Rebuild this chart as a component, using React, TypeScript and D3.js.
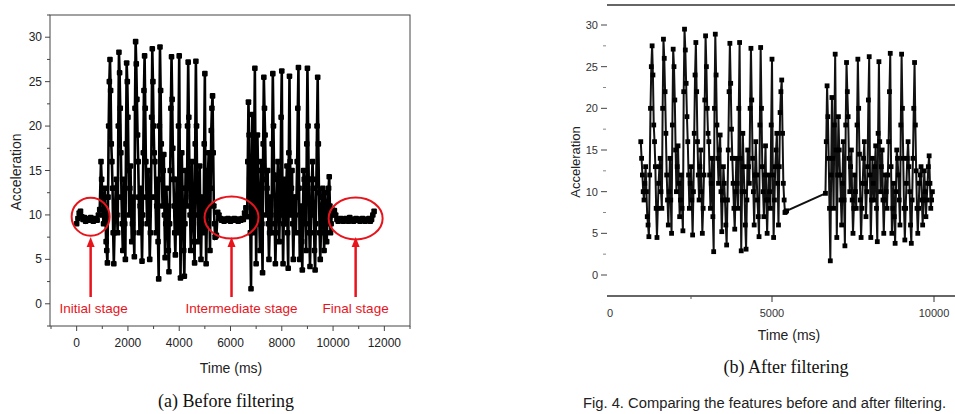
import React from "react";
import * as d3 from "d3";

// sampling steps (ms)
const REST_STEP = 50;
const MOVE_STEP = 25;

// stationary phases (before filtering only)
const initialStart = 0;
const initialValues = [9.0, 9.6, 10.2, 10.4, 9.8, 9.5, 9.7, 9.3, 9.6, 9.5, 9.4, 9.7, 9.5, 9.3, 9.6, 9.5, 9.4, 10.0, 10.6];

const middleStart = 5500;
const middleValues = [10.3, 10.0, 9.6, 9.4, 9.5, 9.3, 9.5, 9.4, 9.6, 9.5, 9.3, 9.4, 9.5, 9.6, 9.4, 9.5, 9.3, 9.5, 9.4, 9.6, 9.5, 10.2, 10.8];

const finalStart = 10000;
const finalValues = [10.2, 10.5, 10.0, 9.5, 9.3, 9.4, 9.6, 9.5, 9.3, 9.4, 9.6, 9.5, 9.3, 9.7, 9.5, 9.4, 9.3, 9.5, 9.6, 9.4, 9.5, 9.3, 9.5, 9.6, 9.4, 9.3, 9.5, 9.4, 9.6, 9.3, 9.5, 10.0, 10.4];

// movement phases (kept after filtering)
const move1Start = 950;
const move1Values = [
  16.0, 14, 12, 10, 9, 11, 13, 10, 7, 6, 4.6, 12, 20, 25, 27.5, 24, 18, 16, 13, 8,
  4.5, 8, 11, 13, 14, 10, 8, 20, 28.3, 26, 22, 17, 12, 9, 6, 10, 14, 9, 5, 18,
  27.1, 25, 21, 15, 10, 13, 15.5, 11, 7, 9, 12, 8, 5.3, 22, 29.5, 27, 23, 19, 16, 12,
  8, 11, 13, 9, 4.8, 10, 17, 24, 27.9, 22, 16, 12, 9, 13, 15, 10, 5, 8, 12, 21,
  28.7, 25, 20, 17, 16, 12, 8, 11, 14, 7, 2.8, 20, 28.9, 24, 18, 14, 11, 15, 16.8, 10,
  5.2, 9, 13, 11, 9, 6, 3.6, 9, 15, 22, 27.8, 23, 17.5, 14, 11, 8, 5.5, 10, 14, 11,
  8, 20, 27.9, 14, 2.9, 10, 17, 13, 10, 6, 3.1, 9, 15, 13, 11, 20, 27.2, 21, 14, 10,
  6, 12, 16, 12, 9, 7, 4.6, 18, 27.3, 20, 13, 10, 7, 12, 15.5, 9, 5, 9, 12, 10,
  8, 18, 25.9, 12, 4.5, 9, 13, 15, 17, 11, 6, 13, 19.5, 22, 23.4, 17, 11, 9, 7.5, 7.6,
  7.7,
];

const move2Start = 6650;
const move2Values = [
  9.8, 16, 22.7, 19, 14, 8, 1.7, 12, 21.3, 14, 8, 18, 26.5, 15, 4.5, 12, 19, 15, 12, 9,
  6, 11, 16, 9, 3.5, 18, 25.5, 22, 19, 14, 10, 13, 15, 9, 5, 8, 12, 10, 8, 18,
  25.9, 20, 14.5, 9, 4.5, 8, 11, 14, 16, 11, 7, 10, 13, 21, 26.2, 12, 4.5, 9, 14, 11,
  9, 13, 15.5, 8, 4.0, 17, 25.6, 16, 10, 13, 15, 9, 5, 9, 12, 10, 8, 12, 16, 22,
  26.6, 13, 5, 8, 11, 7, 3.8, 10, 15, 14, 12, 9, 6, 18, 26.5, 20, 14, 8, 4.2, 8,
  11, 14, 16, 13, 10, 6, 3.8, 9, 14, 20, 25.5, 18, 12.5, 8, 5, 8, 11, 12, 13, 9,
  6, 9, 12.5, 10, 7, 9, 11, 13, 14.3, 11, 8, 9, 10,
];

const yTicks = [0, 5, 10, 15, 20, 25, 30];
const xTicksBefore = [0, 2000, 4000, 6000, 8000, 10000, 12000];
const xTicksAfter = [0, 5000, 10000];

const stageLabels = ["Initial stage", "Intermediate stage", "Final stage"];
const stageTimes = [546, 6040, 10880];
const stageValues = [9.8, 9.7, 9.6];
const stageRadii = [[19, 19], [27, 21], [27, 21]];

type Pt = { t: number; v: number };
const toPts = (start: number, step: number, vals: number[]): Pt[] => vals.map((v, i) => ({ t: start + i * step, v }));

const beforeData: Pt[] = [
  ...toPts(initialStart, REST_STEP, initialValues),
  ...toPts(move1Start, MOVE_STEP, move1Values),
  ...toPts(middleStart, REST_STEP, middleValues),
  ...toPts(move2Start, MOVE_STEP, move2Values),
  ...toPts(finalStart, REST_STEP, finalValues),
];
const afterData: Pt[] = [...toPts(move1Start, MOVE_STEP, move1Values), ...toPts(move2Start, MOVE_STEP, move2Values)];

const sans = "'Liberation Sans', Arial, sans-serif";
const serif = "'Liberation Serif', 'Times New Roman', serif";

function BeforeChart() {
  const x = d3.scaleLinear().domain([-1000, 13000]).range([51, 410]);
  const y = d3.scaleLinear().domain([-2.5, 32.5]).range([326, 15]);
  const line = d3.line<Pt>().x((d) => x(d.t)).y((d) => y(d.v));
  const minorY = d3.range(-2.5, 32.6, 2.5).filter((v) => !yTicks.includes(v));
  const minorX = d3.range(-1000, 13001, 1000).filter((v) => !xTicksBefore.includes(v));
  return (
    <g>
      <path d={line(beforeData) || ""} fill="none" stroke="#000" strokeWidth={2.6} />
      {beforeData.map((d, i) => (
        <rect key={i} x={x(d.t) - 2.8} y={y(d.v) - 2.8} width={5.6} height={5.6} rx={1} fill="#000" />
      ))}
      <rect x={50} y={15} width={360} height={311} fill="none" stroke="#444" strokeWidth={1} />
      {yTicks.map((v) => (
        <g key={v}>
          <line x1={45} x2={50} y1={y(v)} y2={y(v)} stroke="#444" />
          <text x={42} y={y(v) + 4} textAnchor="end" fontSize={12} fontFamily={sans} fill="#222">{v}</text>
        </g>
      ))}
      {minorY.map((v) => (
        <line key={v} x1={47} x2={50} y1={y(v)} y2={y(v)} stroke="#444" />
      ))}
      {xTicksBefore.map((v) => (
        <g key={v}>
          <line x1={x(v)} x2={x(v)} y1={326} y2={331} stroke="#444" />
          <text x={x(v)} y={347} textAnchor="middle" fontSize={12} fontFamily={sans} fill="#222">{v}</text>
        </g>
      ))}
      {minorX.map((v) => (
        <line key={v} x1={x(v)} x2={x(v)} y1={326} y2={329} stroke="#444" />
      ))}
      <text x={231} y={373} textAnchor="middle" fontSize={14} fontFamily={sans} fill="#222">Time (ms)</text>
      <text transform="translate(21,172) rotate(-90)" textAnchor="middle" fontSize={14} fontFamily={sans} fill="#222">Acceleration</text>

      {stageLabels.map((s, i) => (
        <g key={s} stroke="#e8141c" fill="none">
          <ellipse cx={x(stageTimes[i])} cy={y(stageValues[i])} rx={stageRadii[i][0]} ry={stageRadii[i][1]} strokeWidth={2} />
          <line x1={x(stageTimes[i])} x2={x(stageTimes[i])} y1={297} y2={245} strokeWidth={2.5} />
          <path d={`M${x(stageTimes[i]) - 4},${247} L${x(stageTimes[i])},${237} L${x(stageTimes[i]) + 4},${247} Z`} fill="#e8141c" stroke="none" />
          <text x={x(stageTimes[i]) + (i === 0 ? 3 : i === 1 ? 10 : 0)} y={313} textAnchor="middle" fontSize={13.5} fontFamily={sans} fill="#e8141c" stroke="none">{s}</text>
        </g>
      ))}
      <text x={226} y={407} textAnchor="middle" fontSize={18} fontFamily={serif} fill="#111">(a) Before filtering</text>
    </g>
  );
}

function AfterChart() {
  const x = d3.scaleLinear().domain([0, 10000]).range([610, 934]);
  const y = d3.scaleLinear().domain([0, 30]).range([275, 25]);
  const line = d3.line<Pt>().x((d) => x(d.t)).y((d) => y(d.v));
  const minorY = d3.range(2.5, 30, 5);
  return (
    <g>
      <line x1={607} x2={955} y1={5} y2={5} stroke="#333" strokeWidth={1.5} />
      <path d={line(afterData) || ""} fill="none" stroke="#111" strokeWidth={2} />
      {afterData.map((d, i) => (
        <rect key={i} x={x(d.t) - 2.4} y={y(d.v) - 2.4} width={4.8} height={4.8} fill="#000" />
      ))}
      <line x1={607} x2={955} y1={296} y2={296} stroke="#333" strokeWidth={1.5} />
      {yTicks.map((v) => (
        <g key={v}>
          <line x1={601} x2={607} y1={y(v)} y2={y(v)} stroke="#444" />
          <text x={598} y={y(v) + 4} textAnchor="end" fontSize={11} fontFamily={sans} fill="#333">{v}</text>
        </g>
      ))}
      {minorY.map((v) => (
        <line key={v} x1={603} x2={606} y1={y(v)} y2={y(v)} stroke="#888" />
      ))}
      {xTicksAfter.map((v) => (
        <g key={v}>
          {v > 0 && <line x1={x(v)} x2={x(v)} y1={296} y2={302} stroke="#333" />}
          <text x={x(v)} y={317} textAnchor="middle" fontSize={11} fontFamily={sans} fill="#333">{v}</text>
        </g>
      ))}
      <line x1={x(2500)} x2={x(2500)} y1={296} y2={299} stroke="#555" />
      <text x={789} y={340} textAnchor="middle" fontSize={14} fontFamily={sans} fill="#222">Time (ms)</text>
      <text transform="translate(580,162) rotate(-90)" textAnchor="middle" fontSize={13} fontFamily={sans} fill="#222">Acceleration</text>
      <text x={786} y={373} textAnchor="middle" fontSize={18} fontFamily={serif} fill="#111">(b) After filtering</text>
      <text x={583} y={408} fontSize={14} fontFamily={sans} fill="#222" textLength={363} lengthAdjust="spacingAndGlyphs">Fig. 4. Comparing the features before and after filtering.</text>
    </g>
  );
}

export default function App() {
  return (
    <svg width={955} height={414} style={{ position: "absolute", left: 0, top: 0, background: "#fff" }}>
      <BeforeChart />
      <AfterChart />
    </svg>
  );
}
